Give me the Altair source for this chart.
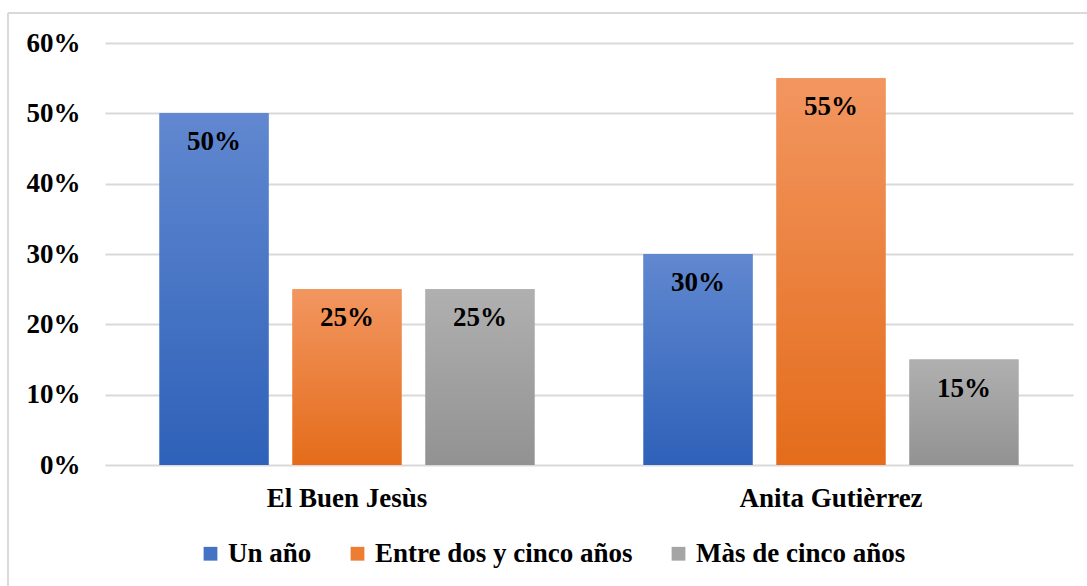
import altair as alt
import pandas as pd

groups = ["El Buen Jesùs", "Anita Gutièrrez"]
series = ["Un año", "Entre dos y cinco años", "Màs de cinco años"]
un_ano = [0.50, 0.30]
entre = [0.25, 0.55]
mas = [0.25, 0.15]
colors = ["#4472C4", "#ED7D31", "#A5A5A5"]
grad_top = ["#6188d0", "#f29660", "#b0b0b0"]
grad_bottom = ["#2e61b9", "#e46c1b", "#929292"]
y_ticks = [0, 0.1, 0.2, 0.3, 0.4, 0.5, 0.6]

rows = []
for s, vals in zip(series, [un_ano, entre, mas]):
    for g, v in zip(groups, vals):
        rows.append({"grupo": g, "serie": s, "valor": v})
df = pd.DataFrame(rows)

FONT = "Liberation Serif"

x = alt.X(
    "grupo:N", sort=groups,
    scale=alt.Scale(domain=groups, paddingInner=0, paddingOuter=0),
    axis=alt.Axis(title=None, labelAngle=0, ticks=False, domain=False, grid=False,
                  labelFont=FONT, labelFontSize=27, labelFontWeight="bold",
                  labelColor="black", labelPadding=20, labelLimit=600),
)
xo = alt.XOffset("serie:N", sort=series,
                 scale=alt.Scale(domain=series, paddingInner=0.18, paddingOuter=0.41))
y = alt.Y(
    "valor:Q", scale=alt.Scale(domain=[0, 0.6]),
    axis=alt.Axis(title=None, format=".0%", values=y_ticks, ticks=False, domain=False,
                  grid=True, gridColor="#d9d9d9", gridWidth=1.8,
                  labelFont=FONT, labelFontSize=27, labelFontWeight="bold",
                  labelColor="black", labelPadding=25),
)

base = alt.Chart(df)

shadow1 = base.mark_bar(color="#000000", opacity=0.0, stroke="#000000",
                        strokeWidth=8, strokeOpacity=0.05, yOffset=2, xOffset=1).encode(
    x=x, xOffset=xo, y=y)
shadow2 = base.mark_bar(color="#000000", opacity=0.0, stroke="#000000",
                        strokeWidth=4, strokeOpacity=0.08, yOffset=1, xOffset=1).encode(
    x=x, xOffset=xo, y=y)

legend_bars = base.mark_bar().encode(
    x=x, xOffset=xo, y=y,
    color=alt.Color(
        "serie:N", sort=series,
        scale=alt.Scale(domain=series, range=colors),
        legend=alt.Legend(
            title=None, orient="none", direction="horizontal",
            legendX=92, legendY=497,
            symbolType="square", symbolSize=190, symbolStrokeWidth=0,
            labelFont=FONT, labelFontSize=27, labelFontWeight="bold", labelColor="black",
            labelOffset=4, columnPadding=32, labelLimit=400,
        ),
    ),
)

layers = [shadow1, shadow2, legend_bars]
for s, top, bot in zip(series, grad_top, grad_bottom):
    grad = alt.Gradient(
        gradient="linear",
        stops=[alt.GradientStop(color=top, offset=0), alt.GradientStop(color=bot, offset=1)],
        x1=0, x2=0, y1=0, y2=1,
    )
    layers.append(
        base.transform_filter(alt.datum.serie == s)
        .mark_bar(color=grad)
        .encode(x=x, xOffset=xo, y=y)
    )

labels = base.mark_text(
    font=FONT, fontSize=27, fontWeight="bold", color="black", baseline="middle", dy=29
).encode(x=x, xOffset=xo, y=y, text=alt.Text("valor:Q", format=".0%"))
layers.append(labels)

one = alt.Data(values=[{"k": 1}])
border_left = alt.Chart(one).mark_rule(color="#d9d9d9", strokeWidth=2).encode(
    x=alt.value(-97), y=alt.value(-30), y2=alt.value(560))
border_top = alt.Chart(one).mark_rule(color="#d9d9d9", strokeWidth=2).encode(
    x=alt.value(-97), x2=alt.value(1000), y=alt.value(-30))
layers += [border_left, border_top]

chart = alt.layer(*layers).properties(
    width=968, height=422,
    autosize=alt.AutoSizeParams(type="none"),
    padding={"left": 105, "top": 43, "right": 14, "bottom": 121},
    background="white",
).configure_view(stroke=None)

chart.save("out.html", embed_options={"renderer": "svg", "actions": False})
